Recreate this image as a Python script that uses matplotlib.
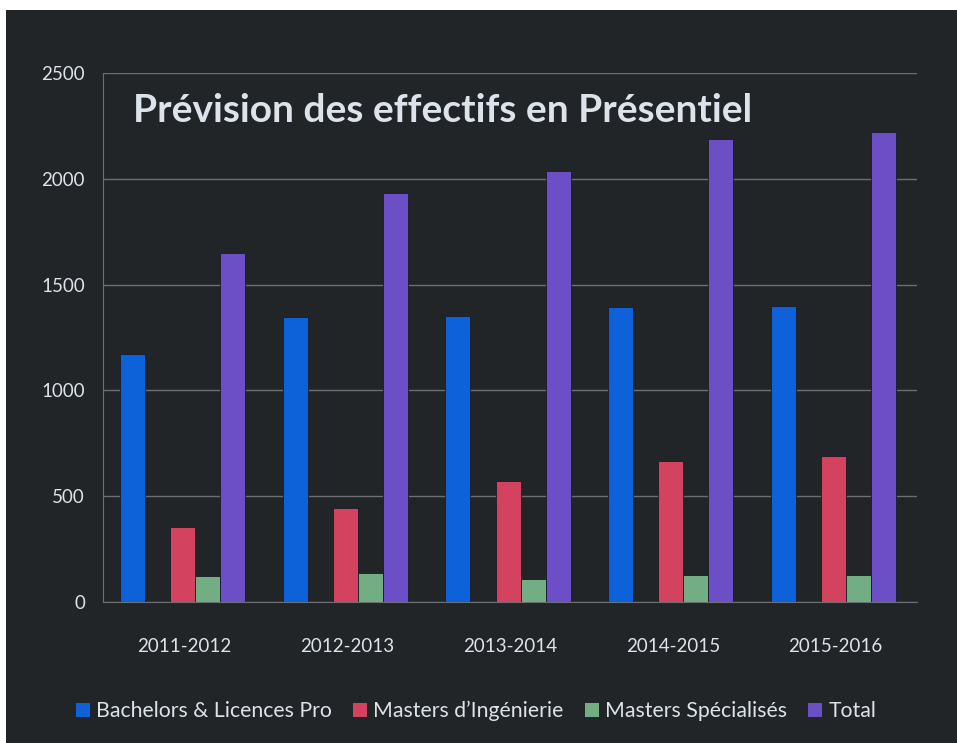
import numpy as np
import matplotlib.pyplot as plt
from matplotlib.patches import Rectangle, Patch

years = ["2011-2012", "2012-2013", "2013-2014", "2014-2015", "2015-2016"]
bachelors = [1170, 1348, 1353, 1394, 1400]
masters_ing = [353, 444, 573, 668, 692]
masters_spe = [123, 137, 109, 129, 129]
total = [1648, 1931, 2038, 2189, 2220]

series_names = ["Bachelors & Licences Pro", "Masters d\u2019Ingénierie",
                "Masters Spécialisés", "Total"]
series_values = [bachelors, masters_ing, masters_spe, total]
series_colors = ["#0d62d9", "#d3425f", "#72ad83", "#6c4fc6"]
# Excel layout has an empty second slot (hidden series)
series_slots = [0, 2, 3, 4]

bg = "#212528"
txt = "#dde3ea"
grid = "#6b6f72"

plt.rcParams["font.family"] = ["Lato", "DejaVu Sans"]

fig = plt.figure(figsize=(9.57, 7.43), dpi=100, facecolor="white")
fig.patches.append(Rectangle((6 / 957, 0), 1, 1 - 10 / 743,
                             transform=fig.transFigure, facecolor=bg,
                             edgecolor="none", zorder=-10))

ax = fig.add_axes([103 / 957, 141 / 743, 814 / 957, 529 / 743])
ax.set_facecolor("none")

x = np.arange(len(years))
w = 1 / 6.5
for vals, col, slot in zip(series_values, series_colors, series_slots):
    ax.bar(x + (slot - 2) * w - 0.012, vals, width=w, color=col,
           edgecolor="#1a1a2a", linewidth=0.6, zorder=3)

ax.set_xlim(-0.5, len(years) - 0.5)
ax.set_ylim(0, 2500)
ax.set_yticks(range(0, 2501, 500))
ax.set_xticks(x)
ax.set_xticklabels(years)
ax.yaxis.grid(True, color=grid, linewidth=1, zorder=0)
ax.tick_params(length=0, colors=txt, labelsize=13.5)
ax.tick_params(axis="y", pad=13)
ax.tick_params(axis="x", pad=26)
for s in ["top", "right"]:
    ax.spines[s].set_visible(False)
for s in ["left", "bottom"]:
    ax.spines[s].set_color(grid)

fig.text(133 / 957, 1 - 111 / 743, "Prévision des effectifs en Présentiel",
         color=txt, fontsize=28, fontweight="bold", ha="left", va="center")

handles = [Patch(facecolor=c, edgecolor="none") for c in series_colors]
fig.legend(handles, series_names, loc="center", ncol=4,
           bbox_to_anchor=(476 / 957, 1 - 711 / 743), frameon=False,
           fontsize=15.3, labelcolor=txt, handlelength=0.65, handleheight=0.65,
           handletextpad=0.3, columnspacing=1.0)

fig.savefig("out.png", dpi=100, facecolor="white")
